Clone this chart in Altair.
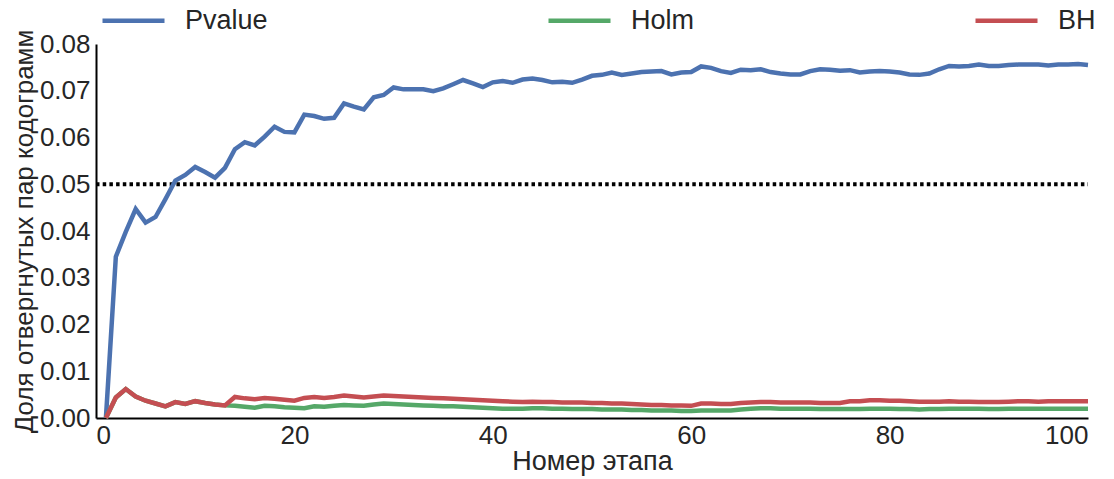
import altair as alt
import pandas as pd

steps = list(range(1, 101))

pvalue = [
    0.0, 0.0345, 0.0398, 0.0447, 0.0418, 0.0430, 0.0468, 0.0508, 0.0520, 0.0537,
    0.0526, 0.0514, 0.0535, 0.0575, 0.0590, 0.0583, 0.0602, 0.0623, 0.0612, 0.0611,
    0.0649, 0.0646, 0.0640, 0.0642, 0.0673, 0.0666, 0.0660, 0.0686, 0.0691, 0.0707,
    0.0703, 0.0703, 0.0703, 0.0699, 0.0705, 0.0714, 0.0723, 0.0716, 0.0708, 0.0718,
    0.0721, 0.0717, 0.0724, 0.0726, 0.0723, 0.0718, 0.0719, 0.0717, 0.0724, 0.0732,
    0.0734, 0.0739, 0.0734, 0.0737, 0.0740, 0.0741, 0.0742, 0.0735, 0.0739, 0.0740,
    0.0752, 0.0749, 0.0742, 0.0738, 0.0745, 0.0744, 0.0746, 0.0740, 0.0737, 0.0735,
    0.0735, 0.0742, 0.0746, 0.0745, 0.0743, 0.0744, 0.0739, 0.0741, 0.0742, 0.0741,
    0.0739, 0.0735, 0.0734, 0.0737, 0.0746, 0.0753, 0.0752, 0.0753, 0.0756, 0.0753,
    0.0753, 0.0755, 0.0756, 0.0756, 0.0756, 0.0754, 0.0756, 0.0756, 0.0757, 0.0755,
]

holm = [
    0.0, 0.0044, 0.0062, 0.0046, 0.0037, 0.0031, 0.0025, 0.0034, 0.0030, 0.0036,
    0.0032, 0.0029, 0.0027, 0.0026, 0.0024, 0.0022, 0.0026, 0.0025, 0.0023, 0.0022,
    0.0021, 0.0025, 0.0024, 0.0026, 0.0028, 0.0027, 0.0026, 0.0029, 0.0031, 0.0030,
    0.0029, 0.0028, 0.0027, 0.0026, 0.0025, 0.0025, 0.0024, 0.0023, 0.0022, 0.0021,
    0.0020, 0.0020, 0.0020, 0.0021, 0.0021, 0.0020, 0.0020, 0.0019, 0.0019, 0.0019,
    0.0018, 0.0018, 0.0018, 0.0017, 0.0017, 0.0016, 0.0016, 0.0016, 0.0015, 0.0015,
    0.0016, 0.0016, 0.0016, 0.0016, 0.0018, 0.0020, 0.0021, 0.0021, 0.0020, 0.0020,
    0.0020, 0.0020, 0.0019, 0.0019, 0.0019, 0.0019, 0.0019, 0.0020, 0.0020, 0.0020,
    0.0019, 0.0019, 0.0018, 0.0019, 0.0019, 0.0020, 0.0020, 0.0020, 0.0020, 0.0019,
    0.0019, 0.0020, 0.0020, 0.0020, 0.0020, 0.0020, 0.0020, 0.0020, 0.0020, 0.0020,
]

bh = [
    0.0, 0.0044, 0.0062, 0.0046, 0.0037, 0.0031, 0.0025, 0.0034, 0.0030, 0.0036,
    0.0032, 0.0029, 0.0027, 0.0045, 0.0042, 0.0040, 0.0043, 0.0041, 0.0039, 0.0037,
    0.0043, 0.0045, 0.0043, 0.0045, 0.0048, 0.0046, 0.0044, 0.0046, 0.0048, 0.0047,
    0.0046, 0.0045, 0.0044, 0.0043, 0.0042, 0.0041, 0.0040, 0.0039, 0.0038, 0.0037,
    0.0036, 0.0035, 0.0034, 0.0035, 0.0034, 0.0034, 0.0033, 0.0033, 0.0033, 0.0032,
    0.0032, 0.0031, 0.0031, 0.0030, 0.0029, 0.0028, 0.0028, 0.0027, 0.0027, 0.0026,
    0.0031, 0.0031, 0.0030, 0.0030, 0.0032, 0.0033, 0.0034, 0.0034, 0.0033, 0.0033,
    0.0033, 0.0033, 0.0032, 0.0032, 0.0032, 0.0036, 0.0036, 0.0038, 0.0038, 0.0037,
    0.0037, 0.0036, 0.0035, 0.0035, 0.0035, 0.0036, 0.0035, 0.0035, 0.0034, 0.0034,
    0.0034, 0.0035, 0.0036, 0.0036, 0.0035, 0.0036, 0.0036, 0.0036, 0.0036, 0.0036,
]

series_names = ["Pvalue", "Holm", "BH"]
series_colors = ["#4C72B0", "#55A868", "#C44E52"]

threshold_x = [0, 100]
threshold_y = [0.05, 0.05]

x_ticks = [0, 20, 40, 60, 80, 100]
y_ticks = [0.0, 0.01, 0.02, 0.03, 0.04, 0.05, 0.06, 0.07, 0.08]

rows = []
for name, vals in zip(series_names, [pvalue, holm, bh]):
    for s, v in zip(steps, vals):
        rows.append({"step": s, "value": v, "series": name, "order": series_names.index(name)})
df = pd.DataFrame(rows)

thr = pd.DataFrame({"step": threshold_x, "value": threshold_y})

FONT = "Liberation Sans"
TXT = "#262626"

x_enc = alt.X(
    "step:Q",
    scale=alt.Scale(domain=[0, 100], nice=False),
    axis=alt.Axis(values=x_ticks, title="Номер этапа", format="d"),
)
y_enc = alt.Y(
    "value:Q",
    scale=alt.Scale(domain=[0, 0.08], nice=False),
    axis=alt.Axis(values=y_ticks, title="Доля отвергнутых пар кодограмм", format=".2f"),
)

threshold = alt.Chart(thr).mark_line(
    color="black", strokeWidth=4, strokeDash=[3.5, 3.2]
).encode(x=alt.X("step:Q", scale=alt.Scale(domain=[0, 100], nice=False)),
         y=alt.Y("value:Q", scale=alt.Scale(domain=[0, 0.08], nice=False)))

lines = alt.Chart(df).mark_line(strokeWidth=4.5, clip=False).encode(
    x=x_enc,
    y=y_enc,
    color=alt.Color(
        "series:N",
        scale=alt.Scale(domain=series_names, range=series_colors),
        legend=alt.Legend(
            title=None,
            orient="none",
            legendX=4,
            legendY=-57,
            direction="horizontal",
            columns=3,
            columnPadding=271,
            symbolType="stroke",
            symbolSize=3844,
            symbolStrokeWidth=4.5,
            labelFontSize=27,
            labelFont=FONT,
            labelColor=TXT,
            labelOffset=18,
            padding=0,
        ),
    ),
    order=alt.Order("order:Q"),
)

chart = alt.layer(threshold, lines).properties(
    width=992,
    height=374,
    autosize=alt.AutoSizeParams(type="none"),
    padding={"left": 96, "top": 44, "right": 26, "bottom": 61},
    background="white",
).configure_view(stroke=None).configure_axis(
    grid=False,
    ticks=False,
    domainColor="black",
    domainWidth=2,
    labelFont=FONT,
    labelFontSize=26,
    labelColor=TXT,
    titleFont=FONT,
    titleFontSize=26,
    titleColor=TXT,
    titleFontWeight="normal",
).configure_axisX(
    labelPadding=4, titlePadding=0, titleFontSize=27
).configure_axisY(
    labelPadding=6, titlePadding=2
)

chart.save("out.html", embed_options={"renderer": "svg", "actions": False})
